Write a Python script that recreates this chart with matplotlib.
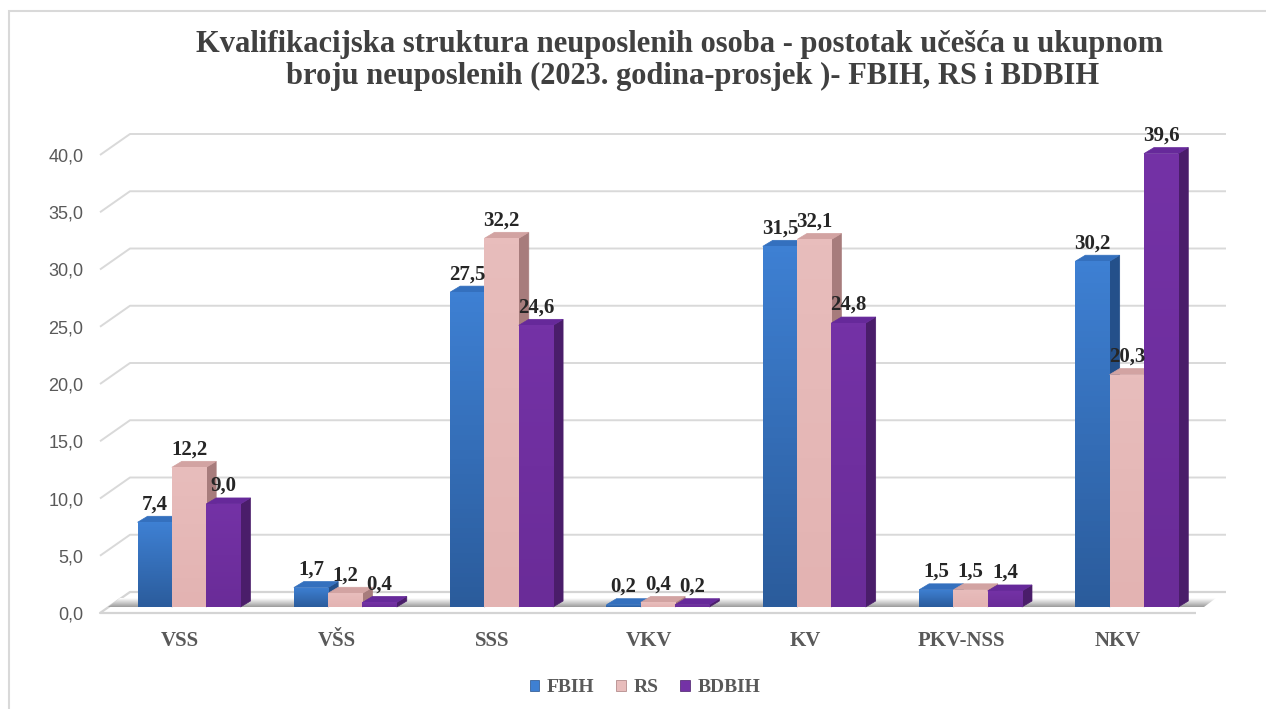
import matplotlib
matplotlib.use('Agg')
import matplotlib.pyplot as plt
from matplotlib.patches import Polygon, Rectangle, Patch
from matplotlib.colors import LinearSegmentedColormap
import numpy as np

# data
categories = ['VSS', 'VŠS', 'SSS', 'VKV', 'KV', 'PKV-NSS', 'NKV']
series = ['FBIH', 'RS', 'BDBIH']
fbih = [7.4, 1.7, 27.5, 0.2, 31.5, 1.5, 30.2]
rs = [12.2, 1.2, 32.2, 0.4, 32.1, 1.5, 20.3]
bdbih = [9.0, 0.4, 24.6, 0.2, 24.8, 1.4, 39.6]
yticks = [0, 5, 10, 15, 20, 25, 30, 35, 40]
title1 = 'Kvalifikacijska struktura neuposlenih osoba - postotak učešća u ukupnom'
title2 = 'broju neuposlenih (2023. godina-prosjek )- FBIH, RS i BDBIH'

# colours: (front top, front bottom, side, top face)
styles = {
    'FBIH': ('#3E80D3', '#2B5C9C', '#24508A', '#3470BE'),
    'RS': ('#E8BDBC', '#E3B3B2', '#A77C7C', '#D2A3A2'),
    'BDBIH': ('#7432A6', '#6A2C98', '#4A1D6A', '#66299A'),
}
values = {'FBIH': fbih, 'RS': rs, 'BDBIH': bdbih}

W, H = 1266, 709
PXX = 156.3          # px per category
PXY = 458 / 40       # px per value unit
dxu = lambda p: p / PXX
dyu = lambda p: p / PXY

SERIF = ['Liberation Serif', 'DejaVu Serif']
SANS = ['Liberation Sans', 'DejaVu Sans']

fig = plt.figure(figsize=(W / 100, H / 100), dpi=100)
ax = fig.add_axes([100 / W, 96 / H, 1126 / W, 458 / H])
x0, x1 = -0.512, 6.692

# back wall / side wall gridlines
WX, WY = dxu(30), dyu(21)
for t in yticks[1:]:
    ax.plot([x0, x0 + WX, x1], [t, t + WY, t + WY], color='#D9D9D9', lw=1.4,
            zorder=0, clip_on=False, solid_capstyle='butt')

# floor
ax.plot([x1 - WX, x0, x0 + WX, x1], [0, 0, WY, WY], color='#D4D4D4', lw=1.6,
        zorder=1, clip_on=False, solid_capstyle='butt')

BX, BY = dxu(9), dyu(6)
BW = dxu(34.3)
SX, SY = dxu(10), dyu(6)

# floor shadow band
band = Polygon([(x0 + dxu(8), BY), (x1 - dxu(22), BY), (x1 - dxu(10), BY + dyu(9)),
                (x0 + dxu(20), BY + dyu(9))], closed=True, facecolor='none',
               edgecolor='none', zorder=1.5)
ax.add_patch(band)
shade = LinearSegmentedColormap.from_list('shade', ['#FFFFFF', '#9C9C9C'])
im = ax.imshow(np.linspace(0, 1, 50).reshape(-1, 1), cmap=shade, aspect='auto',
               extent=[x0, x1, BY, BY + dyu(9)], zorder=1.5)
im.set_clip_path(band)

z = 3
for i, cat in enumerate(categories):
    for k, s in enumerate(series):
        v = values[s][i]
        ctop, cbot, cside, ctopf = styles[s]
        xl = i + BX + (k - 1.5) * BW
        xr = xl + BW
        side = Polygon([(xr, BY), (xr + SX, BY + SY), (xr + SX, BY + v + SY), (xr, BY + v)],
                       closed=True, facecolor=cside, edgecolor=cside, lw=0.5,
                       zorder=z, clip_on=False)
        top = Polygon([(xl, BY + v), (xr, BY + v), (xr + SX, BY + v + SY), (xl + SX, BY + v + SY)],
                      closed=True, facecolor=ctopf, edgecolor=ctopf, lw=0.5,
                      zorder=z, clip_on=False)
        ax.add_patch(side)
        ax.add_patch(top)
        bars = ax.bar(xl, v, width=BW, bottom=BY, align='edge', color=cbot,
                      zorder=z + 0.1, clip_on=False, lw=0)
        cmap = LinearSegmentedColormap.from_list(s, [cbot, ctop])
        g = ax.imshow(np.linspace(0, 1, 64).reshape(-1, 1), cmap=cmap, aspect='auto',
                      origin='lower', extent=[xl, xr, BY, BY + v], zorder=z + 0.2)
        g.set_clip_path(bars.patches[0])
        ax.text(xl + BW / 2, BY + v + dyu(13), f'{v:.1f}'.replace('.', ','),
                ha='center', va='baseline', fontsize=15, fontweight='bold',
                family=SERIF, color='#262626', zorder=100)
        z += 1

ax.set_xlim(x0, x1)
ax.set_ylim(0, 40)
for sp in ax.spines.values():
    sp.set_visible(False)

ax.set_yticks(yticks)
ax.set_yticklabels([f'{t:.1f}'.replace('.', ',') for t in yticks], family=SANS)
ax.tick_params(axis='y', length=0, pad=12, labelsize=13, labelcolor='#595959')
ax.set_xticks(range(len(categories)))
ax.set_xticklabels(categories, family=SERIF, fontweight='bold')
ax.tick_params(axis='x', length=0, pad=13, labelsize=15, labelcolor='#595959')

# title
fig.text(680 / W, 1 - 52 / H, title1, ha='center', va='baseline', fontsize=22,
         fontweight='bold', family=SERIF, color='#404040')
fig.text(693 / W, 1 - 84 / H, title2, ha='center', va='baseline', fontsize=22,
         fontweight='bold', family=SERIF, color='#404040')

# legend
handles = [Patch(facecolor=styles[s][0], edgecolor=styles[s][2], lw=0.5, label=s) for s in series]
fig.legend(handles=handles, loc='center', bbox_to_anchor=(645 / W, 1 - 688 / H), ncol=3,
           frameon=False, prop={'family': SERIF, 'weight': 'bold', 'size': 14},
           labelcolor='#595959', handlelength=0.5, handleheight=0.5,
           handletextpad=0.4, columnspacing=1.1)

# outer frame
fig.add_artist(Rectangle((9 / W, -0.1), 1.2, 1 - 11 / H + 0.1, transform=fig.transFigure,
                         fill=False, edgecolor='#D9D9D9', lw=1.5))

fig.savefig('out.png', dpi=100)
